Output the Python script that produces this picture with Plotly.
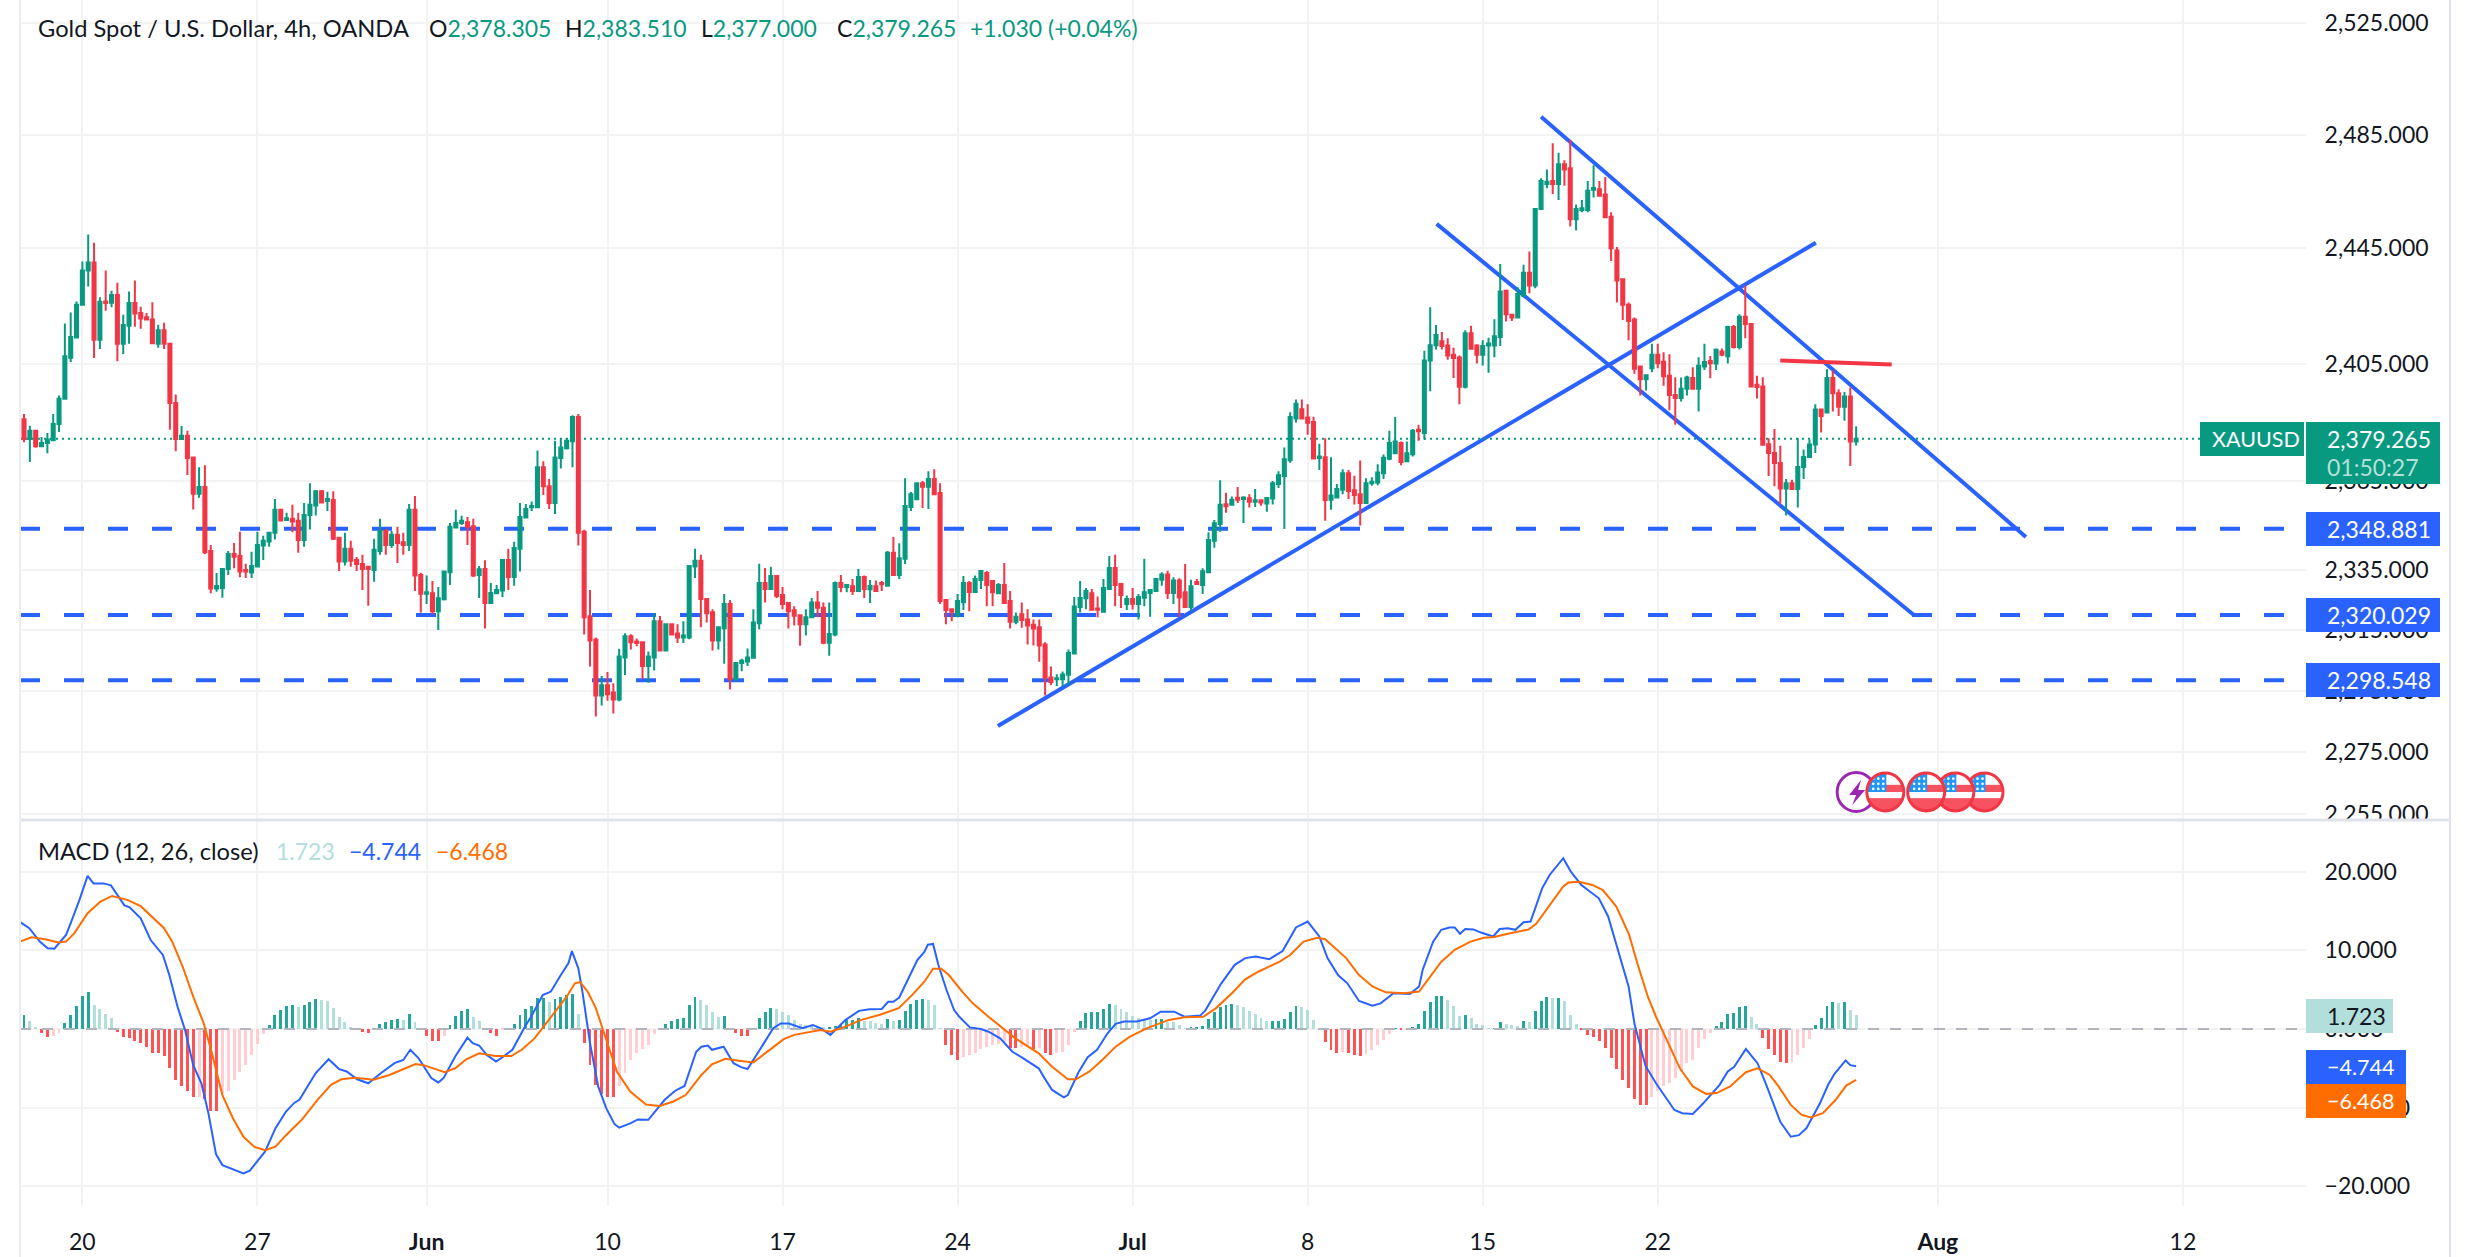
import base64
import plotly.graph_objects as go

# 4h candles, index 0 is the first bar on screen
opens = [
    2385.9,2379.2,2382,2376.7,2377.8,2378.8,2384.3,2392.9,2407,2414,
    2425.3,2437.2,2440,2413.2,2426.4,2426,2428.7,2411.8,2418,2425.9,
    2422.4,2421,2420.2,2411.8,2416.5,2411.8,2391.5,2379.2,2380.3,2372.9,
    2360.6,2362.9,2341.4,2328.9,2329,2335.4,2340.4,2339.7,2335,2334.2,
    2336.2,2343.2,2344.6,2347.5,2355.2,2351.8,2352.2,2351.5,2345.1,2353.5,
    2356.7,2361.5,2358.2,2358.5,2345.8,2337.9,2342.1,2338.4,2337,2336.1,
    2335,2341.4,2348.1,2343.4,2346.8,2344.3,2343.4,2355.2,2333.4,2327.1,
    2327.3,2321.3,2325.3,2334.3,2349.3,2350.8,2351,2349.7,2333.4,2335.4,
    2324,2327.3,2328.2,2338.4,2332.7,2342.1,2352.6,2356.1,2356.1,2369.6,
    2363.2,2357.5,2372.7,2376,2378.4,2386.7,2347.8,2319.6,2311.9,2293.5,
    2296.9,2294.5,2292.2,2306,2313,2311.3,2311,2303.2,2306,2318,
    2308.3,2317,2313.9,2312.6,2312.6,2336.2,2338.1,2325.4,2321,2311.6,
    2315.7,2323.7,2298.9,2304.2,2304.7,2305.9,2317.3,2330.7,2328.7,2333,
    2326.7,2324,2321.6,2320,2317,2319.3,2324.2,2322.5,2310.9,2313.6,
    2330.7,2329.4,2329.6,2328,2332.7,2328.6,2329.6,2330.7,2329.8,2340.8,
    2333.4,2338.8,2356.2,2358.8,2364.2,2363,2365.6,2360.9,2325,2322,
    2319.8,2324.3,2330.7,2327.7,2331.7,2334,2331.4,2327.3,2330,2324.7,
    2317.8,2320.3,2318.6,2316.8,2316,2310.3,2299.4,2298.8,2298.8,2300.3,
    2307.3,2322.7,2325.6,2327.3,2322.2,2321.1,2328.7,2335.7,2330.4,2323.7,
    2325.4,2323.7,2325.8,2327.4,2328,2331.8,2333.5,2327.4,2331.5,2327.6,
    2322.7,2331,2330,2334.3,2344.8,2350.4,2357.1,2356.9,2359.3,2358.9,
    2359.1,2357.9,2358.4,2357.3,2359,2363.9,2366.6,2372,2386.2,2389.3,
    2386.5,2385,2372.7,2373,2358.6,2359.4,2362,2367.6,2361.8,2360.5,
    2357.5,2364.2,2364.4,2367.6,2372.5,2374.3,2377.8,2371.6,2374,2382.3,
    2381.2,2406,2411.3,2412.7,2411.2,2408,2407.1,2397,2415.4,2411.2,
    2408,2411.2,2411.2,2414.1,2430.2,2421.8,2420.9,2428.5,2436.4,2432,
    2458.7,2467.5,2468.6,2467.5,2474.5,2473.1,2455.1,2458.4,2458.4,2465.5,
    2465.7,2463.8,2456,2444.2,2434.2,2425.3,2420.2,2404,2399.6,2403.4,
    2408,2405.6,2400.8,2394.2,2393.2,2396.3,2400,2396.3,2404,2405.9,
    2405,2409.1,2407.5,2417.6,2410.7,2421.1,2418.6,2397.7,2397.1,2377.4,
    2374.4,2371,2362.4,2364.2,2362.2,2369.7,2373.1,2377.3,2389.2,2388.2,
    2400,2394.8,2390.2,2393.7,2378.305,
]
highs = [
    2387.7,2383.7,2382.3,2379.9,2381.2,2387.7,2394,2418.8,2422.6,2426.4,
    2440.3,2449.8,2446.9,2427.9,2437.2,2430.2,2432.9,2421.8,2429.9,2433.7,
    2424.6,2422.4,2426.2,2418.4,2419.1,2411.8,2394.4,2383.6,2382,2373.2,
    2369.6,2370.3,2343.4,2334,2335.4,2341.4,2344.1,2347.8,2337.1,2341.1,
    2347.8,2346.5,2347.8,2358.9,2355.5,2354.2,2356.9,2354.2,2357.5,2364.2,
    2361.9,2361.9,2361.3,2361.5,2346.1,2347.5,2344.8,2339.4,2340.1,2336.1,
    2345.5,2352.2,2348.8,2348.1,2349.5,2347.5,2357.2,2359.9,2334.1,2333.2,
    2331.4,2329.4,2334.7,2350.8,2355.2,2353.2,2352.8,2352.2,2336.4,2338.3,
    2330.7,2330,2338.4,2342.1,2344.5,2357.5,2357.2,2358,2375.3,2371.6,
    2365.6,2378.6,2379.5,2379.5,2387.3,2387.7,2348.5,2328.4,2312.6,2299.9,
    2301.2,2297.5,2308.9,2314,2313.7,2312.3,2311,2308,2320.7,2319.7,
    2317.3,2317,2317,2318,2336.4,2342.1,2340.1,2325.4,2322,2316,
    2327,2325,2304.2,2305.6,2309,2322,2337.1,2335.7,2336.1,2333,
    2329.4,2324,2323,2320,2322,2325.7,2328,2324.2,2324.2,2331.2,
    2333.4,2330.4,2332,2335.4,2333.2,2331.7,2331.5,2331.4,2341.4,2346.1,
    2344,2365.9,2361.2,2364.2,2364.9,2368.2,2368.9,2364.2,2325.4,2322.3,
    2327,2333,2331.4,2333.2,2335,2334.7,2331.4,2330.7,2337.4,2328,
    2320.9,2324.2,2322,2318.6,2318.6,2311,2303,2300.5,2301.4,2308.6,
    2326,2331.4,2329,2328.7,2326.2,2332,2339.7,2340.1,2330.4,2326.5,
    2329,2327,2338.8,2328.7,2332.4,2334.3,2334.8,2332.6,2332.3,2337,
    2331.8,2332,2335.6,2347.7,2351.8,2365.2,2361,2359.7,2362.9,2359.8,
    2360.5,2362.2,2358.4,2359.2,2364.9,2368.2,2376.3,2388.3,2392.7,2392.7,
    2391,2386.8,2377.6,2379.4,2373,2363.9,2368.9,2368.7,2366.7,2371.9,
    2365.9,2366.2,2370.6,2373.9,2382,2386.7,2378.3,2378.3,2382.6,2384,
    2409.4,2424.4,2418.3,2415.9,2413.7,2410.4,2407.8,2416.5,2418,2411.6,
    2413,2413.9,2420.3,2439.5,2430.2,2421.8,2431.4,2439.2,2443.8,2458.7,
    2469.6,2472.7,2482,2478.6,2475.9,2483.2,2460.3,2461.9,2468.6,2474.2,
    2468.6,2470,2457.6,2445.4,2434.4,2426.1,2420.9,2404,2401,2411.8,
    2411.8,2408.9,2408.2,2400.3,2400.2,2400.8,2403.7,2407.2,2411.8,2407.6,
    2410.2,2410.2,2418,2418.3,2422,2432,2418.8,2400.8,2400.3,2379.4,
    2382.6,2376.9,2365.6,2365.4,2379.5,2375.6,2379,2391,2389.2,2403,
    2402.6,2396.2,2395.2,2396.8,2383.51,
]
lows = [
    2378.1,2371.4,2376.2,2376.5,2374.3,2378.6,2381.6,2392.9,2405.5,2413.9,
    2425.1,2431.6,2406.9,2410,2423.2,2424.4,2405.8,2408.3,2411.8,2417.7,
    2417,2420,2411.8,2410.4,2410,2382.3,2375,2379,2367,2355.3,
    2359.3,2340.4,2327.3,2327.8,2325.8,2333.4,2335.6,2332.6,2332.4,2332.4,
    2336.2,2338.4,2342.8,2345.2,2351.3,2351.5,2347.7,2340.8,2342.8,2348.6,
    2353.3,2357.5,2354.8,2345.1,2334.7,2336.5,2336.1,2334.7,2328.4,2323.1,
    2331.1,2340.1,2340.1,2342.4,2337.4,2340.1,2341.4,2328,2320.9,2323.7,
    2320.2,2315.1,2324.9,2330,2349.3,2350.1,2343.4,2332.7,2325.7,2315.6,
    2324,2327,2326,2328.4,2329.8,2334.5,2352.4,2354.8,2356.1,2360.2,
    2355.5,2353.8,2369.2,2375.6,2369.6,2343.2,2313.6,2303,2286.6,2290.2,
    2291.8,2287.6,2291.6,2300.2,2308.6,2309.7,2298.9,2297.7,2301.7,2308,
    2308,2313.6,2310.8,2310.8,2312,2332.4,2316,2317.6,2308.3,2308.6,
    2303.9,2295.5,2298,2301.5,2303.2,2305.7,2315.3,2324.2,2328.4,2325.7,
    2322,2315.6,2316.6,2309.9,2313.3,2319,2319.3,2310.4,2306.6,2313,
    2327.6,2327.6,2326.7,2327.9,2325.7,2324,2327.9,2328,2329.6,2333,
    2332,2337,2354.8,2358.5,2355.8,2355.5,2360.5,2323.7,2317,2318,
    2319.3,2321.7,2321.3,2327.6,2328.7,2323,2323,2327,2323.8,2315.6,
    2317,2315.8,2310.3,2310,2304.6,2293.5,2296.9,2296.6,2296.6,2296.9,
    2307,2320.9,2322,2321.5,2319.3,2321,2328.5,2323,2322.4,2321.7,
    2321.9,2318.6,2323,2319.5,2327.9,2329.8,2325.4,2323.7,2319.5,2322.5,
    2321.5,2330,2327,2334,2342.5,2347.8,2354.2,2356.6,2357.5,2350.8,
    2356,2356.2,2356.6,2354.6,2357,2362.6,2348.8,2371.1,2384.8,2386,
    2380.6,2372.6,2368.7,2351.5,2355.2,2359.4,2360.5,2358.9,2357,2349.9,
    2357.4,2363.3,2363.5,2365.6,2372,2374,2370.3,2371.4,2373.2,2378.6,
    2379,2395.5,2409.8,2409.8,2406.3,2400,2391,2396.4,2410,2405,
    2404.3,2401.8,2407.2,2411,2419.5,2419.7,2420.7,2427.9,2429.3,2431,
    2458.7,2466,2464,2461.9,2466.9,2452.6,2451.2,2457.6,2457.6,2462.8,
    2463.4,2455.8,2440.5,2426.1,2420,2413,2401.5,2394,2395.7,2402,
    2403.4,2397.4,2389,2384,2392,2394,2396.3,2388.6,2402.8,2399.9,
    2402.8,2407.5,2405,2410.2,2409.8,2413.7,2397.1,2393,2377,2366.6,
    2363.2,2357.3,2353.3,2362,2356,2365.6,2372.8,2374.4,2381.4,2388,
    2388.6,2387,2385.4,2370,2377,
]
closes = [
    2379.2,2382,2376.7,2377.8,2379,2384.3,2392.9,2407.5,2414.1,2425.3,
    2437.2,2440,2413.2,2426.3,2425.9,2428.7,2411.8,2418.3,2425.9,2422.3,
    2420.5,2420.2,2412,2416.5,2411.8,2391.5,2379.2,2380.3,2372.7,2360.6,
    2362.9,2341,2328.9,2329.7,2335.4,2340.4,2339.5,2334.5,2334.5,2336.4,
    2343.4,2344.8,2347.5,2355.2,2351.6,2352.4,2351.3,2345.1,2353.5,2356.9,
    2361.5,2357.7,2358.9,2345.5,2337.9,2342.1,2338.1,2337,2335.4,2335.4,
    2341.8,2348.1,2343.4,2346.8,2344.1,2343.4,2355.2,2333.2,2327.1,2327.6,
    2321.3,2325.6,2334.5,2349.5,2350.8,2351.5,2349.5,2333.2,2335.3,2324,
    2327.4,2328.4,2338.4,2332.7,2342.4,2352.8,2355.5,2356.5,2369.6,2363.2,
    2357.5,2372.9,2376.3,2378.6,2386.7,2347.5,2319.3,2311.6,2293.5,2296.9,
    2293.9,2292.2,2306.3,2313,2311,2310.8,2303.2,2306.3,2318,2308.3,
    2317,2313.6,2312.6,2313.3,2336.4,2338.1,2325.4,2320.6,2311.6,2316,
    2323.7,2298.9,2304.2,2304.9,2306,2317.6,2330.7,2328.7,2333,2326.4,
    2323.7,2321.3,2319.8,2317,2319.3,2324.2,2322.5,2310.9,2313.8,2330.7,
    2329.4,2330,2328,2332.7,2328.7,2329.7,2328,2330.3,2340.8,2333.4,
    2339,2356.5,2360.5,2364.2,2363,2365.6,2360.5,2324.7,2321.7,2321.1,
    2324.7,2330.7,2327.7,2332,2334.7,2330,2327.6,2330,2324,2317.8,
    2319.5,2318.4,2316.6,2315.6,2310,2299.4,2297.9,2299.2,2300.4,2307.5,
    2322.9,2325.7,2328,2321.8,2321.8,2329,2335.7,2330,2326.7,2325.4,
    2323.8,2326,2327.6,2328.4,2332,2333.5,2327.4,2331.5,2325.9,2322.7,
    2329.6,2330.4,2334.6,2345.1,2350.7,2356.9,2356.4,2358.6,2358.6,2359.4,
    2357.9,2358.4,2357.7,2359.2,2364.2,2366.9,2372.3,2386.7,2391.2,2386.2,
    2384.7,2372.6,2373.2,2358.5,2360,2362.2,2367.6,2361.6,2360.2,2357.5,
    2364.2,2364.7,2367.8,2372.8,2377.8,2378.3,2371.4,2374.3,2382,2381.8,
    2406,2411.3,2414.8,2411,2407.8,2406.9,2397,2415.4,2410.1,2408,
    2411,2411.9,2414.4,2429.9,2422,2420.9,2429,2436.4,2432,2458.7,
    2468.6,2468.3,2467.5,2474.5,2472.7,2455.1,2458.7,2459,2465.2,2466.1,
    2463.4,2455.8,2445,2433.7,2425.3,2419.7,2403.2,2399.6,2401,2408,
    2405.1,2400.6,2394.2,2393.2,2396.3,2400.2,2396.3,2404.2,2405.5,2405.1,
    2409.7,2408,2417.6,2410.7,2421.1,2418.6,2397.1,2396.9,2377.2,2374.4,
    2371,2362.4,2364.2,2362.2,2369.7,2373.1,2377.3,2389.2,2387,2400,
    2394.8,2390.2,2393.7,2378.3,2379.265,
]

hist = [
    1.8,1.0,.3,-.55,-1.05,-.95,-.55,.7,1.8,2.9,
    4.2,4.7,3.05,2.55,1.9,1.4,-.35,-1.0,-1.15,-1.55,
    -1.8,-2.25,-3.0,-3.1,-3.5,-5.0,-6.55,-7.2,-7.85,-8.7,
    -8.6,-8.85,-10.4,-10.4,-8.2,-7.9,-6.5,-5.5,-4.6,-3.3,
    -1.9,-.7,.5,1.75,2.4,2.9,3.05,2.85,3.05,3.4,
    3.8,3.65,3.55,2.6,1.5,.9,.15,-.15,-.35,-.55,
    -.1,.65,.9,1.15,1.25,1.15,1.9,.9,-.1,-.9,
    -1.5,-1.5,-.9,.5,1.7,2.3,2.55,1.5,1.0,.1,
    -.55,-.85,-.1,.1,.65,1.8,2.55,2.9,3.95,3.95,
    3.45,3.75,4.1,4.3,4.45,1.9,-1.8,-4.6,-7.1,-8.25,
    -8.6,-8.6,-7.2,-5.55,-3.9,-3.1,-2.6,-2.0,-.65,-.15,
    .65,1.0,1.25,1.4,3.05,4.05,3.7,3.05,2.1,1.5,
    1.65,.1,-.55,-.9,-.9,.1,1.35,2.15,2.6,2.5,
    2.1,1.8,1.2,.65,.5,.4,.3,.2,.3,.4,
    .5,1.1,1.15,1.4,1.0,.95,.7,.65,1.25,1.0,
    1.15,2.3,3.2,3.7,3.75,3.65,3.05,.1,-2.0,-3.3,
    -3.95,-3.6,-3.3,-3.0,-2.5,-2.25,-2.1,-1.9,-1.7,-2.4,
    -2.4,-2.3,-2.25,-2.5,-2.4,-3.0,-3.3,-3.1,-2.9,-2.0,
    -.4,1.0,2.05,2.1,2.15,2.55,3.2,3.05,2.55,2.15,
    1.65,1.4,1.25,1.15,1.25,1.3,.9,.85,.5,.05,
    .15,.2,.35,1.25,2.2,2.8,3.0,3.2,3.05,2.8,
    2.3,1.9,1.4,1.0,1.0,1.05,1.25,2.15,2.9,2.8,
    2.4,1.15,-.1,-1.6,-2.65,-3.05,-2.9,-3.1,-3.3,-3.45,
    -3.2,-2.65,-2.0,-1.4,-.65,.1,-.15,-.1,.3,.65,
    2.25,3.45,4.2,4.2,3.7,2.9,1.65,1.8,1.4,.65,
    .5,.1,.1,.9,.65,.5,.4,1.0,.9,2.3,
    3.55,4.05,3.95,3.95,3.55,1.8,.65,-.05,-.75,-1.0,
    -1.5,-2.4,-3.65,-5.1,-6.5,-7.45,-8.85,-9.65,-9.65,-8.7,
    -7.85,-7.2,-6.9,-6.25,-5.4,-4.35,-4.0,-2.4,-1.3,-.55,
    .35,.9,1.85,2.0,2.75,2.9,1.5,.65,-1.2,-2.55,
    -3.3,-4.2,-4.3,-4.2,-3.3,-2.4,-1.25,.5,1.35,2.9,
    3.45,3.3,3.45,2.4,1.723,
]

macd_x = [
    -0.7,.9,2.7,4.05,5.2,7.2,8.1,9.5,10.9,11.9,13.6,14.9,17.2,18.1,20,21.7,23.8,24.9,26.3,27.6,
    29,30.4,31.6,32.9,34,35.8,37.6,38.7,41.3,43.1,44.9,46.3,47.2,50,52.2,54,55.3,57.1,59,61.2,
    63.5,65,66.2,67.6,69.8,71,71.9,73.9,76,76.9,78,79.3,80.9,82,83.7,85.7,87.1,88.9,90.3,92,
    93.3,93.9,95,95.7,97,98.4,99.8,101.2,102,103.9,105.2,107,108.4,109.8,111.6,113.2,115.2,116.1,117.2,117.9,
    119.9,121.6,122.9,124,126.1,128.4,129.7,131.1,133.4,135.2,136.5,138.2,140.8,143.1,144.9,147,148.1,149,150,151.7,
    153.1,154.3,154.9,155.8,156.7,158.1,159.4,160.3,162.1,164,165.3,167.3,169.4,171.2,173.9,174.9,176.2,178.2,178.9,180.8,
    182.3,183.9,185.7,187.1,188.5,190.7,193,194.8,197.1,198.9,201.6,202.5,205.2,207.5,209.3,211.1,213.4,215.7,218,220,
    222,223.4,225.2,226.8,228.8,231.1,232.5,234.7,237.5,239.1,239.7,241.5,242.9,244.3,245.2,246.1,247,248.4,249.7,251.8,
    252.9,254.3,255.6,257,258.2,260.2,261.5,263.8,265.1,266.9,269.9,271.5,273.3,275,276,277.9,279.7,282.85,284.2,286,
    287.8,290.6,292,293.1,295.1,297.1,298.7,300.1,301,302.8,304.2,305.5,307.8,309.2,310.3,312.2,313,314,
]
macd_y = [
    13.6,12.8,11.1,10.25,10.2,11.95,13.65,16.4,19.45,18.5,18.5,18.25,15.7,15.45,14.05,11.3,9.4,6.85,2.85,-.15,
    -4.6,-6.9,-10.7,-15.9,-17.3,-17.8,-18.35,-18,-15.6,-12.6,-10.5,-9.4,-9.0,-5.6,-3.85,-5.1,-5.4,-6.4,-6.9,-5.6,
    -4.35,-3.95,-2.65,-3.7,-6.25,-6.8,-6.25,-3.5,-1.1,-1.8,-2.1,-3.3,-4.15,-3.6,-2.65,.1,1.8,4.3,4.75,6.85,
    8.35,9.9,7.7,4.75,-1.8,-7.3,-10.1,-12.1,-12.55,-12,-11.5,-11.55,-10.2,-9,-7.85,-7.25,-2.9,-2.25,-2.1,-2.65,
    -2.25,-4.35,-4.85,-5.1,-2.65,.1,.7,.7,.1,.5,.1,-.75,1.15,2.3,2.5,2.55,3.45,3.45,4,6.65,
    8.75,9.8,10.7,10.8,8.15,4.95,2.4,1.55,.2,0,-.35,-1.2,-2.9,-3.7,-5,-6.25,-7.75,-8.7,-8.4,-5.4,
    -3.6,-2.65,-.55,.65,.95,.95,1.35,2.2,2.2,1.55,1.7,2.4,5.8,8.15,9,9.2,8.85,9.9,12.9,13.65,
    11.75,9,6.85,5.8,3.55,2.95,3.25,4.55,4.45,5.4,7.5,11.1,12.6,12.9,12.9,12.1,12.7,12.65,12.25,11.75,
    12.7,12.8,12.6,13.55,13.65,17.9,19.6,21.7,20,18.3,16.6,14.3,9.6,5.4,.7,-4.7,-6.9,-10.3,-10.7,-10.8,
    -9.45,-7.1,-5.4,-4.8,-2.55,-4.35,-7.3,-9.9,-11.8,-13.7,-13.5,-12.6,-9.45,-7.1,-5.7,-4,-4.6,-4.744,
]
signal_x = [
    -0.7,1.3,3.6,5.9,7.2,8.6,10.9,13.1,15.1,17.7,20,22.2,24,25.4,27.2,29,30.8,32.2,34,35.8,
    37.6,39.5,41.3,43.1,44.9,47.6,50.3,52.6,54.4,56.7,59.9,62.6,65.3,67.1,68.5,70.3,72.1,73.9,75.8,78,
    80.8,83.5,85.3,87.5,90.3,93,94.4,95.3,96.6,98,99.8,101.6,103.9,106.6,108.9,111.2,113.4,116.1,117.9,120.2,
    122.5,125,127,130.2,132,134.7,136.5,138.2,140.8,143.5,146.7,149.9,152.2,154.3,155.8,157.2,158.5,160.8,162.6,165.3,
    168,169.9,173.9,176.2,178.9,180.3,182.6,184.8,187.1,189.4,192.5,196.2,198.9,202.1,204.3,207.1,209.3,211.6,215.2,217,
    219.3,221.6,223,226.6,228.8,231.1,233.4,236.6,239.1,240.6,242.9,245.2,247.9,250.2,252,254.3,257.9,259.2,261.5,263.8,
    264.7,266.5,268.8,270.6,272.9,275.1,276.5,278.3,279.7,281.5,283.8,286,288.3,290.1,292.4,295.1,297.1,299.2,300.7,302.8,
    304.6,306.2,308.3,310.5,312.3,314,
]
signal_y = [
    11.1,11.65,11.4,11,11.1,12.15,14.7,16.2,16.9,16.4,15.6,14.05,12.8,11.1,7.9,4.1,.7,-3.1,-8.4,-11.35,
    -13.7,-15,-15.4,-14.95,-13.5,-11.55,-9,-7.1,-6.4,-6.2,-6.45,-5.85,-5,-4.45,-4.6,-5.1,-5.5,-5,-3.85,-3.1,
    -3.45,-3.45,-2.65,-1.2,1.55,4.1,5.8,5.95,4.75,2.65,-1.4,-5.4,-7.95,-9.6,-9.8,-9.25,-8.4,-5.85,-4.5,-3.8,
    -4.05,-4.25,-3.1,-1.3,-.75,-.35,-.15,-.35,.3,1.15,1.8,2.65,4.3,6,7.65,7.65,6.85,4.75,3.25,1.55,
    0,-1.2,-3.1,-4.8,-6.4,-6.4,-5.4,-3.95,-2.25,-1.05,.1,1.15,1.5,1.55,2.65,4.6,6.3,7.3,8.55,9.4,
    11.1,11.6,11.4,9,6.85,5.4,4.65,4.55,4.75,6.25,8.55,10.05,11.1,11.6,11.7,12.1,12.65,13.4,15.75,18.1,
    18.6,18.7,18.3,17.65,15.55,11.95,8.35,4.1,1.55,-1.4,-5,-7.3,-8.25,-8.15,-7.3,-5.5,-5,-5.85,-7.3,-9.65,
    -10.9,-11.25,-10.7,-9,-7.2,-6.468,
]

# horizontal levels and hand drawn lines (bar index, price)
levels = [2348.881, 2320.029, 2298.548]
rising_x, rising_y = [166.9, 307.1], [2283.5, 2446.9]
upper_x, upper_y = [260, 343.1], [2491.4, 2346.1]
lower_x, lower_y = [242.1, 324], [2453.5, 2319.9]
red_x, red_y = [301, 320.1], [2406, 2404.7]

price_ticks = [2255, 2275, 2295, 2315, 2335, 2365, 2405, 2445, 2485, 2525]
price_labels = ["2,255.000", "2,275.000", "2,295.000", "2,315.000", "2,335.000",
                "2,365.000", "2,405.000", "2,445.000", "2,485.000", "2,525.000"]
macd_ticks = [-20, -10, 0, 10, 20]
macd_labels = ["\u221220.000", "\u221210.000", "0.000", "10.000", "20.000"]
time_ticks = [10, 40, 69, 100, 130, 160, 190, 220, 250, 280, 328, 370]
time_labels = ["20", "27", "<b>Jun</b>", "10", "17", "24", "<b>Jul</b>", "8", "15", "22", "<b>Aug</b>", "12"]
event_bars = [314, 336, 331, 319, 326]

UP, DOWN, BLUE, ORANGE, INK = "#089981", "#F23645", "#2962FF", "#FF6D00", "#131722"
GRID = "#F3F3F4"
FONT = "Lato"
W, H = 2470, 1257
L, R, BOTTOM = 20, 2306, 1206
X_RANGE = [-0.69, 391.1]


def px(x):
    return (x - L) / (R - L)


def py(y):
    return 1 - y / BOTTOM


def hist_color(i):
    v = hist[i]
    prev = hist[i - 1] if i else 0
    if v >= 0:
        return "#26A69A" if v >= prev else "#B2DFDB"
    return "#FF5252" if v <= prev else "#FFCDD2"


bars = list(range(len(opens)))
fig = go.Figure()

fig.add_trace(go.Candlestick(
    x=bars, open=opens, high=highs, low=lows, close=closes,
    increasing=dict(line=dict(color=UP, width=2), fillcolor=UP),
    decreasing=dict(line=dict(color=DOWN, width=2), fillcolor=DOWN),
    whiskerwidth=0, showlegend=False, yaxis="y",
))

fig.add_trace(go.Bar(x=bars, y=hist, width=0.5, marker=dict(color=[hist_color(i) for i in bars], line_width=0),
                     showlegend=False, yaxis="y2"))
fig.add_trace(go.Scatter(x=X_RANGE, y=[0, 0], mode="lines",
                         line=dict(color="#B2B5BE", width=2, dash="11px,11px"), showlegend=False, yaxis="y2"))
fig.add_trace(go.Scatter(x=macd_x, y=macd_y, mode="lines", line=dict(color=BLUE, width=2),
                         showlegend=False, yaxis="y2"))
fig.add_trace(go.Scatter(x=signal_x, y=signal_y, mode="lines", line=dict(color=ORANGE, width=2),
                         showlegend=False, yaxis="y2"))

shapes = []
# drawings sit behind the candles in the reference, so shapes rather than traces
for lv in levels:
    shapes.append(dict(type="line", xref="x", yref="y", x0=X_RANGE[0], x1=X_RANGE[1], y0=lv, y1=lv,
                       layer="between", line=dict(color=BLUE, width=4, dash="20px,24px")))
for tx, ty, col in [(rising_x, rising_y, BLUE), (upper_x, upper_y, BLUE),
                    (lower_x, lower_y, BLUE), (red_x, red_y, DOWN)]:
    shapes.append(dict(type="line", xref="x", yref="y", x0=tx[0], x1=tx[1], y0=ty[0], y1=ty[1],
                       layer="between", line=dict(color=col, width=4)))
shapes.append(dict(type="line", xref="x", yref="y", x0=X_RANGE[0], x1=X_RANGE[1], y0=closes[-1], y1=closes[-1],
                   layer="between", line=dict(color=UP, width=2, dash="2px,4px")))
# frame lines
shapes.append(dict(type="rect", xref="paper", yref="paper", x0=px(2306), x1=px(2449), y0=py(850), y1=py(819),
                   layer="above", fillcolor="white", line_width=0))
shapes.append(dict(type="line", xref="paper", yref="paper", x0=px(20), x1=px(2450), y0=py(820), y1=py(820),
                   layer="above", line=dict(color="#E0E3EB", width=3)))
shapes.append(dict(type="line", xref="paper", yref="paper", x0=px(2450), x1=px(2450), y0=py(0), y1=py(H),
                   layer="above", line=dict(color="#E0E3EB", width=2)))
shapes.append(dict(type="line", xref="paper", yref="paper", x0=px(20), x1=px(20), y0=py(0), y1=py(H),
                   layer="above", line=dict(color="#ECEDF1", width=2)))

annotations = []
LABEL = 23


def text_at(x, y, text, color=INK, size=LABEL, anchor="left"):
    annotations.append(dict(xref="paper", yref="paper", x=px(x), y=py(y), text=text, showarrow=False,
                            xanchor=anchor, yanchor="middle", align="left",
                            font=dict(family=FONT, size=size, color=color)))


def tag(x0, x1, y0, y1, bg, text, color="white", tx=2325, size=LABEL):
    shapes.append(dict(type="rect", xref="paper", yref="paper", x0=px(x0), x1=px(x1), y0=py(y1), y1=py(y0),
                       layer="above", fillcolor=bg, line_width=0))
    text_at(tx, (y0 + y1) / 2, text, color, size)


def g(v):
    return f"<span style='color:{UP}'>{v}</span>"


text_at(36, 28, "Gold Spot / U.S. Dollar, 4h, OANDA", size=23.7)
text_at(427, 28, "O" + g("2,378.305"))
text_at(563, 28, "H" + g("2,383.510"))
text_at(699, 28, "L" + g("2,377.000"))
text_at(835, 28, "C" + g("2,379.265"))
text_at(968, 28, "+1.030 (+0.04%)", UP)
text_at(36, 851, "MACD (12, 26, close)", size=23.7)
text_at(274, 851, "1.723", "#B2DFDB")
text_at(347, 851, "\u22124.744", BLUE)
text_at(434, 851, "\u22126.468", ORANGE)

tag(2200, 2304, 422, 456, UP, "XAUUSD", tx=2210, size=21.5)
tag(2306, 2440, 422, 484, UP, "2,379.265")
annotations[-1]["y"] = py(439)
text_at(2325, 467, "01:50:27", "#B5E0D8")
tag(2306, 2440, 512, 546, BLUE, "2,348.881")
tag(2306, 2440, 598, 632, BLUE, "2,320.029")
tag(2306, 2440, 663, 697, BLUE, "2,298.548")
tag(2306, 2393, 999, 1033, "#B2DFDB", "1.723", color=INK)
tag(2306, 2406, 1050, 1084, BLUE, "\u22124.744", size=21.5)
tag(2306, 2406, 1084, 1118, ORANGE, "\u22126.468", size=21.5)


def svg_uri(body):
    svg = f'<svg xmlns="http://www.w3.org/2000/svg" viewBox="0 0 42 42">{body}</svg>'
    return "data:image/svg+xml;base64," + base64.b64encode(svg.encode()).decode()


FLAG = svg_uri(
    '<clipPath id="c"><circle cx="21" cy="21" r="18"/></clipPath><circle cx="21" cy="21" r="18" fill="white"/>'
    '<g clip-path="url(#c)"><rect x="0" y="14" width="42" height="7" fill="#F7525F"/>'
    '<rect x="0" y="27" width="42" height="15" fill="#F7525F"/><rect x="0" y="0" width="22" height="21" fill="#2196F3"/>'
    '<g fill="white"><circle cx="9" cy="8" r="1.3"/><circle cx="14" cy="8" r="1.3"/><circle cx="19" cy="8" r="1.3"/>'
    '<circle cx="9" cy="13" r="1.3"/><circle cx="14" cy="13" r="1.3"/><circle cx="19" cy="13" r="1.3"/>'
    '<circle cx="9" cy="18" r="1.3"/><circle cx="14" cy="18" r="1.3"/><circle cx="19" cy="18" r="1.3"/></g></g>'
    '<circle cx="21" cy="21" r="18.5" fill="none" stroke="#F23645" stroke-width="3"/>')
BOLT = svg_uri(
    '<circle cx="21" cy="21" r="19" fill="white" stroke="#9C27B0" stroke-width="3"/>'
    '<path d="M26 9 L14 24 H21 L17 34 L30 19 H23 Z" fill="#9C27B0"/>')

images = [dict(source=BOLT if i == 0 else FLAG, xref="x", yref="paper", x=b, y=py(792), sizex=7.2, sizey=43 / BOTTOM,
               xanchor="center", yanchor="middle", sizing="stretch", layer="above")
          for i, b in enumerate(event_bars)]

tick_font = dict(family=FONT, size=23, color=INK)
fig.update_layout(
    width=W, height=H, margin=dict(l=L, r=W - R, t=0, b=H - BOTTOM, pad=0),
    paper_bgcolor="white", plot_bgcolor="white", boxgap=0.25, bargap=0, hovermode=False,
    xaxis=dict(range=X_RANGE, anchor="y2", tickmode="array", tickvals=time_ticks, ticktext=time_labels,
               tickfont=tick_font, showgrid=True, gridcolor=GRID, gridwidth=2, zeroline=False, showline=False,
               ticks="outside", ticklen=15, tickcolor="white", rangeslider=dict(visible=False)),
    yaxis=dict(type="log", range=[3.35283, 3.40369], domain=[py(819), 1], side="right", anchor="x",
               tickmode="array", tickvals=price_ticks, ticktext=price_labels, tickfont=tick_font,
               showgrid=True, gridcolor=GRID, gridwidth=2, zeroline=False, showline=False,
               ticks="outside", ticklen=13, tickcolor="white"),
    yaxis2=dict(range=[-22.5, 26.3], domain=[0, py(822)], side="right", anchor="x",
                tickmode="array", tickvals=macd_ticks, ticktext=macd_labels, tickfont=tick_font,
                showgrid=True, gridcolor=GRID, gridwidth=2, zeroline=False, showline=False,
                ticks="outside", ticklen=13, tickcolor="white"),
    shapes=shapes, annotations=annotations, images=images,
)

fig.write_html("out.html", config=dict(displayModeBar=False), post_script="document.body.style.margin='0'")
